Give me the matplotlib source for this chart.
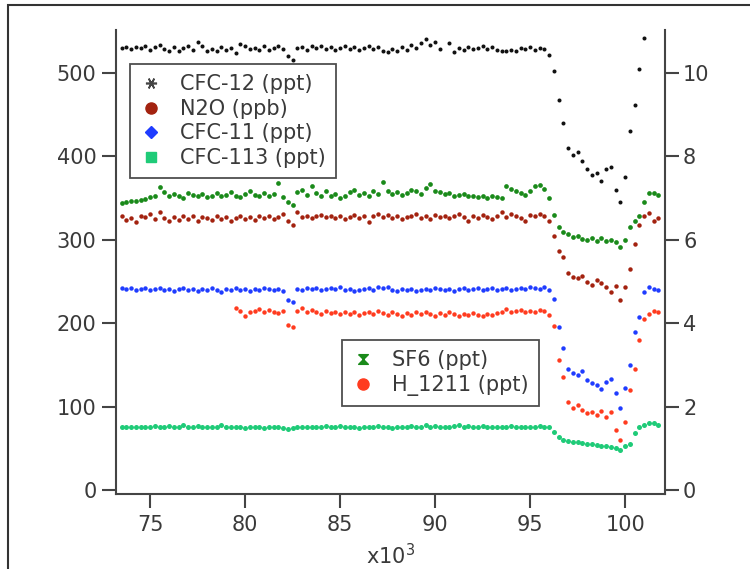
import numpy as np
import matplotlib
matplotlib.use('agg')
import matplotlib.pyplot as plt
from matplotlib.lines import Line2D
from matplotlib.patches import Rectangle

nan = np.nan

# sample times (x10^3), one row below = 1 unit, 4 samples per row, rows start at 73.5
time_k = 73.5 + 0.25 * np.arange(116)

# left axis species
cfc12 = [
    530, 531, 529, 531,  # 73.5
    530, 533, 528, 531,  # 74.5
    534, 529, 526, 531,  # 75.5
    527, 530, 532, 528,  # 76.5
    537, 533, 527, 529,  # 77.5
    526, 531, 528, 530,  # 78.5
    524, 535, 532, 529,  # 79.5
    530, 528, 532, 528,  # 80.5
    530, 533, 529, 520,  # 81.5
    516, 530, 531, 528,  # 82.5
    532, 530, 533, 529,  # 83.5
    531, 528, 530, 532,  # 84.5
    529, 531, 528, 530,  # 85.5
    533, 529, 531, 527,  # 86.5
    525, 529, 526, 531,  # 87.5
    528, 534, 530, 536,  # 88.5
    541, 534, 537, 529,  # 89.5
    nan, 536, 525, 530,  # 90.5
    528, 531, 529, 530,  # 91.5
    532, 529, 531, 528,  # 92.5
    527, 526, 528, 527,  # 93.5
    530, 529, 531, 528,  # 94.5
    530, 529, 522, 502,  # 95.5
    468, 440, 410, 402,  # 96.5
    405, 395, 385, 378,  # 97.5
    380, 370, 385, 387,  # 98.5
    360, 345, 375, 430,  # 99.5
    462, 505, 542, nan,  # 100.5
    nan, nan, nan, nan,  # 101.5
]

n2o = [
    328, 324, 326, 321,  # 73.5
    329, 327, 331, 325,  # 74.5
    333, 326, 322, 327,  # 75.5
    324, 328, 325, 329,  # 76.5
    322, 327, 326, 324,  # 77.5
    328, 325, 327, 323,  # 78.5
    326, 329, 325, 327,  # 79.5
    324, 328, 326, 329,  # 80.5
    325, 327, 331, 322,  # 81.5
    318, 333, 327, 329,  # 82.5
    326, 328, 330, 327,  # 83.5
    329, 326, 328, 325,  # 84.5
    327, 330, 326, 328,  # 85.5
    321, 329, 331, 327,  # 86.5
    330, 326, 328, 325,  # 87.5
    327, 329, 331, 326,  # 88.5
    328, 325, 330, 327,  # 89.5
    329, 326, 328, 331,  # 90.5
    327, 322, 329, 326,  # 91.5
    330, 327, 325, 329,  # 92.5
    333, 327, 331, 328,  # 93.5
    326, 322, 330, 328,  # 94.5
    331, 328, 322, 305,  # 95.5
    287, 279, 260, 256,  # 96.5
    254, 257, 250, 246,  # 97.5
    252, 248, 244, 238,  # 98.5
    245, 228, 243, 265,  # 99.5
    295, 318, 328, 332,  # 100.5
    323, 326, nan, nan,  # 101.5
]

cfc11 = [
    242, 241, 242, 240,  # 73.5
    241, 242, 240, 241,  # 74.5
    242, 240, 241, 239,  # 75.5
    241, 242, 240, 241,  # 76.5
    239, 241, 240, 242,  # 77.5
    240, 238, 241, 240,  # 78.5
    242, 240, 241, 239,  # 79.5
    241, 240, 242, 241,  # 80.5
    240, 241, 239, 228,  # 81.5
    225, 241, 240, 242,  # 82.5
    241, 242, 240, 241,  # 83.5
    242, 241, 243, 240,  # 84.5
    241, 239, 240, 241,  # 85.5
    242, 240, 243, 242,  # 86.5
    244, 240, 239, 241,  # 87.5
    240, 241, 239, 240,  # 88.5
    241, 240, 242, 241,  # 89.5
    240, 241, 239, 241,  # 90.5
    242, 240, 241, 242,  # 91.5
    240, 241, 242, 240,  # 92.5
    241, 242, 240, 241,  # 93.5
    242, 241, 243, 242,  # 94.5
    241, 243, 240, 229,  # 95.5
    195, 170, 145, 140,  # 96.5
    138, 143, 132, 128,  # 97.5
    126, 121, 130, 133,  # 98.5
    116, 98, 122, 150,   # 99.5
    190, 207, 237, 244,  # 100.5
    241, 240, nan, nan,  # 101.5
]

cfc113 = [
    76, 75, 76, 75,  # 73.5
    76, 75, 75, 77,  # 74.5
    76, 75, 77, 76,  # 75.5
    75, 78, 76, 75,  # 76.5
    77, 76, 75, 76,  # 77.5
    75, 78, 76, 75,  # 78.5
    75, 76, 74, 75,  # 79.5
    76, 75, 74, 75,  # 80.5
    76, 75, 74, 73,  # 81.5
    74, 75, 76, 75,  # 82.5
    75, 76, 75, 77,  # 83.5
    76, 75, 77, 76,  # 84.5
    75, 76, 74, 75,  # 85.5
    76, 75, 77, 76,  # 86.5
    75, 74, 75, 76,  # 87.5
    75, 77, 76, 75,  # 88.5
    78, 76, 77, 76,  # 89.5
    75, 76, 77, 78,  # 90.5
    76, 77, 75, 76,  # 91.5
    77, 76, 75, 76,  # 92.5
    75, 76, 77, 76,  # 93.5
    75, 76, 75, 76,  # 94.5
    77, 76, 75, 70,  # 95.5
    64, 60, 59, 58,  # 96.5
    57, 56, 55, 55,  # 97.5
    54, 53, 53, 52,  # 98.5
    50, 48, 53, 55,  # 99.5
    68, 75, 78, 80,  # 100.5
    80, 78, nan, nan,  # 101.5
]

# right axis species
sf6 = [
    6.88, 6.90, 6.92, 6.94,  # 73.5
    6.96, 6.98, 7.02, 7.06,  # 74.5
    7.26, 7.14, 7.04, 7.10,  # 75.5
    7.06, 7.00, 7.12, 7.08,  # 76.5
    7.04, 7.10, 7.02, 7.06,  # 77.5
    7.12, 7.04, 7.08, 7.14,  # 78.5
    7.06, 7.02, 7.10, 7.16,  # 79.5
    7.08, 7.04, 7.12, 7.06,  # 80.5
    7.10, 7.36, 7.02, 6.90,  # 81.5
    6.84, 7.14, 7.20, 7.08,  # 82.5
    7.30, 7.12, 7.06, 7.18,  # 83.5
    7.04, 7.10, 7.00, 7.06,  # 84.5
    7.14, 7.20, 7.08, 7.12,  # 85.5
    7.06, 7.16, 7.10, 7.38,  # 86.5
    7.18, 7.10, 7.14, 7.08,  # 87.5
    7.12, 7.20, 7.16, 7.10,  # 88.5
    7.24, 7.34, 7.18, 7.14,  # 89.5
    7.10, 7.12, 7.06, 7.08,  # 90.5
    7.10, 7.04, 7.06, 7.02,  # 91.5
    7.04, 7.00, 7.06, 7.02,  # 92.5
    7.00, 7.28, 7.22, 7.18,  # 93.5
    7.12, 7.08, 7.16, 7.28,  # 94.5
    7.32, 7.22, 7.00, 6.60,  # 95.5
    6.30, 6.18, 6.14, 6.06,  # 96.5
    6.08, 6.02, 6.00, 6.04,  # 97.5
    5.98, 6.04, 5.96, 6.00,  # 98.5
    5.94, 5.82, 6.00, 6.30,  # 99.5
    6.44, 6.56, 6.90, 7.12,  # 100.5
    7.12, 7.08, nan, nan,    # 101.5
]

h1211 = [
    nan, nan, nan, nan,      # 73.5
    nan, nan, nan, nan,      # 74.5
    nan, nan, nan, nan,      # 75.5
    nan, nan, nan, nan,      # 76.5
    nan, nan, nan, nan,      # 77.5
    nan, nan, nan, nan,      # 78.5
    4.36, 4.30, 4.18, 4.28,  # 79.5
    4.30, 4.34, 4.26, 4.32,  # 80.5
    4.28, 4.24, 4.30, 3.96,  # 81.5
    3.92, 4.30, 4.36, 4.28,  # 82.5
    4.32, 4.26, 4.22, 4.30,  # 83.5
    4.24, 4.28, 4.22, 4.26,  # 84.5
    4.22, 4.26, 4.20, 4.24,  # 85.5
    4.28, 4.22, 4.30, 4.24,  # 86.5
    4.20, 4.26, 4.22, 4.18,  # 87.5
    4.24, 4.20, 4.26, 4.22,  # 88.5
    4.28, 4.22, 4.18, 4.24,  # 89.5
    4.20, 4.26, 4.22, 4.18,  # 90.5
    4.22, 4.20, 4.24, 4.20,  # 91.5
    4.18, 4.22, 4.20, 4.24,  # 92.5
    4.26, 4.34, 4.28, 4.30,  # 93.5
    4.32, 4.28, 4.30, 4.26,  # 94.5
    4.32, 4.30, 4.20, 3.94,  # 95.5
    3.12, 2.70, 2.10, 1.96,  # 96.5
    2.04, 1.92, 1.84, 1.88,  # 97.5
    1.80, 1.90, 1.74, 1.86,  # 98.5
    1.44, 1.20, 1.64, 2.40,  # 99.5
    2.90, 3.60, 4.10, 4.22,  # 100.5
    4.30, 4.26, nan, nan,    # 101.5
]

c_cfc12 = '#111111'
c_n2o = '#a3220f'
c_cfc11 = '#1f3cff'
c_cfc113 = '#1fcb78'
c_sf6 = '#1a8a1a'
c_h1211 = '#ff3b1f'
txt = '#3a3a3a'
axc = '#444444'
hourglass = [(-1, 1), (1, 1), (-1, -1), (1, -1), (-1, 1)]
fs = 15

plt.rcParams['font.family'] = 'DejaVu Sans'

fig = plt.figure(figsize=(7.5, 5.69), dpi=100)
ax = fig.add_axes([116 / 750, 1 - 494 / 569, 549 / 750, 464 / 569])
ax2 = ax.twinx()

ms = 3.2
ax.plot(time_k, cfc12, 'o', color=c_cfc12, ms=ms - 0.3, mew=0)
ax.plot(time_k, n2o, 'o', color=c_n2o, ms=ms, mew=0)
ax.plot(time_k, cfc11, 'o', color=c_cfc11, ms=ms, mew=0)
ax.plot(time_k, cfc113, 'o', color=c_cfc113, ms=ms + 0.4, mew=0)
ax2.plot(time_k, sf6, 'o', color=c_sf6, ms=ms + 0.2, mew=0)
ax2.plot(time_k, h1211, 'o', color=c_h1211, ms=ms, mew=0)

ax.set_xlim(73.21, 102.1)
ax.set_ylim(-4.8, 551.6)
ax2.set_ylim(-4.8 / 50, 551.6 / 50)
ax.set_xticks(np.arange(75, 101, 5))
ax.set_yticks(np.arange(0, 501, 100))
ax2.set_yticks(np.arange(0, 11, 2))

for a in (ax, ax2):
    a.spines['top'].set_visible(False)
    for s in a.spines.values():
        s.set_linewidth(1.5)
        s.set_color(axc)
    a.tick_params(length=10, width=1.5, color=axc, labelcolor=txt, labelsize=fs)
ax.spines['right'].set_visible(False)
ax2.spines['left'].set_visible(False)
ax2.spines['bottom'].set_visible(False)
ax.tick_params(axis='y', pad=4)
ax.tick_params(axis='x', pad=5)
ax2.tick_params(axis='y', pad=3)

ax.set_xlabel(r'x10$^3$', fontsize=fs, color=txt, labelpad=6)

leg_kw = dict(loc='upper left', fontsize=fs, frameon=True, fancybox=False,
              borderaxespad=0, labelspacing=0.22, handlelength=1.0,
              handletextpad=0.9, borderpad=0.5, labelcolor=txt)

h_left = [
    Line2D([], [], ls='', marker=(6, 2, 90), color='#444444', ms=8, mew=1.2),
    Line2D([], [], ls='', marker='o', color=c_n2o, ms=8),
    Line2D([], [], ls='', marker='D', color=c_cfc11, ms=6),
    Line2D([], [], ls='', marker='s', color=c_cfc113, ms=7.5),
]
leg1 = ax2.legend(h_left, ['CFC-12 (ppt)', 'N2O (ppb)', 'CFC-11 (ppt)', 'CFC-113 (ppt)'],
                  bbox_to_anchor=(0.0255, 0.927), **leg_kw)
leg1.get_frame().set_edgecolor('#222222')
leg1.get_frame().set_linewidth(1.3)
ax2.add_artist(leg1)

h_right = [
    Line2D([], [], ls='', marker=hourglass, color=c_sf6, ms=7),
    Line2D([], [], ls='', marker='o', color=c_h1211, ms=8),
]
leg2 = ax2.legend(h_right, ['SF6 (ppt)', 'H_1211 (ppt)'],
                  bbox_to_anchor=(0.4117, 0.332), **leg_kw)
leg2.get_frame().set_edgecolor('#222222')
leg2.get_frame().set_linewidth(1.3)

# outer frame, partly off the canvas
fig.add_artist(Rectangle((8 / 750, -0.2), 1.2, 0.2 + 1 - 5 / 569,
                         transform=fig.transFigure, fill=False, lw=1.5, ec='#333333'))

fig.savefig('out.png', dpi=100)
